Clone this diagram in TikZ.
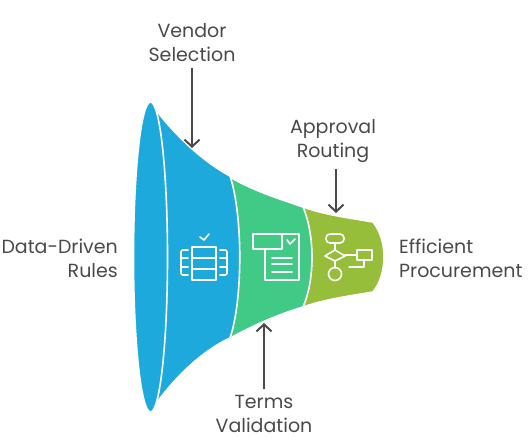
\documentclass[tikz,border=0pt]{standalone}
\usepackage{fontspec}
\setmainfont{Poppins}
\usepackage{tikz}
\usetikzlibrary{arrows.meta}
\definecolor{FunnelBlue}{HTML}{1EA9DC}
\definecolor{FunnelGreen}{HTML}{41C986}
\definecolor{FunnelOlive}{HTML}{96BE3A}
\definecolor{LabelGrey}{HTML}{4A4A4A}
\tikzset{
  stage/.style={draw=white, line width=1.6pt, line join=round},
  label/.style={LabelGrey, inner sep=0pt, align=center, font=\fontsize{19}{24}\selectfont},
  pointer/.style={-{Straight Barb[length=7pt,width=15pt,line width=2pt]}, LabelGrey, line width=2pt, shorten <=6pt},
  icon/.style={draw=white, line width=1.6pt, line join=round, line cap=round}
}

\begin{document}
\begin{tikzpicture}[x=1pt, y=-1pt]
  \useasboundingbox (0,0) rectangle (529,438);

  % Last stage, narrow end of the funnel
  \fill[stage, fill=FunnelOlive] (300,206) .. controls (325,215) and (350,218) .. (373,222)
    .. controls (381,232) and (384,245) .. (384,257)
    .. controls (384,269) and (381,282) .. (373,292)
    .. controls (350,296) and (325,299) .. (300,308) -- cycle;

  % Middle stage
  \fill[stage, fill=FunnelGreen] (225,174) .. controls (250,190) and (280,199) .. (303,207)
    .. controls (315,235) and (315,280) .. (303,307)
    .. controls (280,314) and (255,324) .. (225,341) -- cycle;

  % First stage and its open end
  \fill[stage, fill=FunnelBlue] (150,102) .. controls (170,130) and (200,160) .. (230,176)
    .. controls (243,215) and (243,300) .. (230,338)
    .. controls (200,352) and (172,380) .. (150,412) -- cycle;
  \fill[stage, fill=FunnelBlue] (150.5,257) ellipse (17 and 155);

  % Table icon
  \draw[icon] (192,247) rectangle (216,280);
  \draw[icon] (192,258) -- (216,258);
  \draw[icon] (192,269) -- (216,269);
  \draw[icon] (200,237) -- (204,240) -- (209,234);
  \draw[icon, rounded corners=2pt] (188,250) -- (181,250) -- (181,275) -- (188,275);
  \draw[icon] (181,258) -- (188,258);
  \draw[icon] (181,267) -- (188,267);
  \draw[icon, rounded corners=2pt] (220,250) -- (227,250) -- (227,275) -- (220,275);
  \draw[icon] (220,258) -- (227,258);
  \draw[icon] (220,267) -- (227,267);

  % Document icon
  \draw[icon] (253,234) rectangle (282,249);
  \draw[icon] (282,234) -- (299,234) -- (299,280) -- (265,280) -- (265,249);
  \draw[icon] (287,240) -- (290,244) -- (295,239);
  \draw[icon] (272,258) -- (292,258);
  \draw[icon] (272,264) -- (292,264);
  \draw[icon] (272,272) -- (292,272);

  % Flowchart icon
  \draw[icon, rounded corners=4pt] (326,234) rectangle (344,243);
  \draw[icon] (335,243) -- (335,250);
  \draw[icon] (325,256) -- (335,250) -- (345,256) -- (335,261) -- cycle;
  \draw[icon] (335,261) -- (335,268);
  \draw[icon] (335,274) circle (6.5);
  \draw[icon] (345,255) -- (357,255);
  \draw[icon] (357,250) rectangle (372,260);
  \draw[icon] (364,260) -- (364,267) -- (349,267);

  % Labels
  \node[label] (vendor) at (192,43) {Vendor\\Selection};
  \node[label] (approval) at (333,141) {Approval\\Routing};
  \node[label, align=right, anchor=east] (rules) at (118,258) {Data-Driven\\Rules};
  \node[label, align=left, anchor=west] (procurement) at (399,258) {Efficient\\Procurement};
  \node[label] (terms) at (264,414) {Terms\\Validation};

  % Where the arrows land
  \coordinate (vendortip) at (192,148);
  \coordinate (approvaltip) at (336,213);
  \coordinate (termstip) at (264,323);

  \draw[pointer] (vendor) -- (vendortip);
  \draw[pointer] ([xshift=3pt]approval.south) -- (approvaltip);
  \draw[pointer] (terms) -- (termstip);
\end{tikzpicture}
\end{document}
